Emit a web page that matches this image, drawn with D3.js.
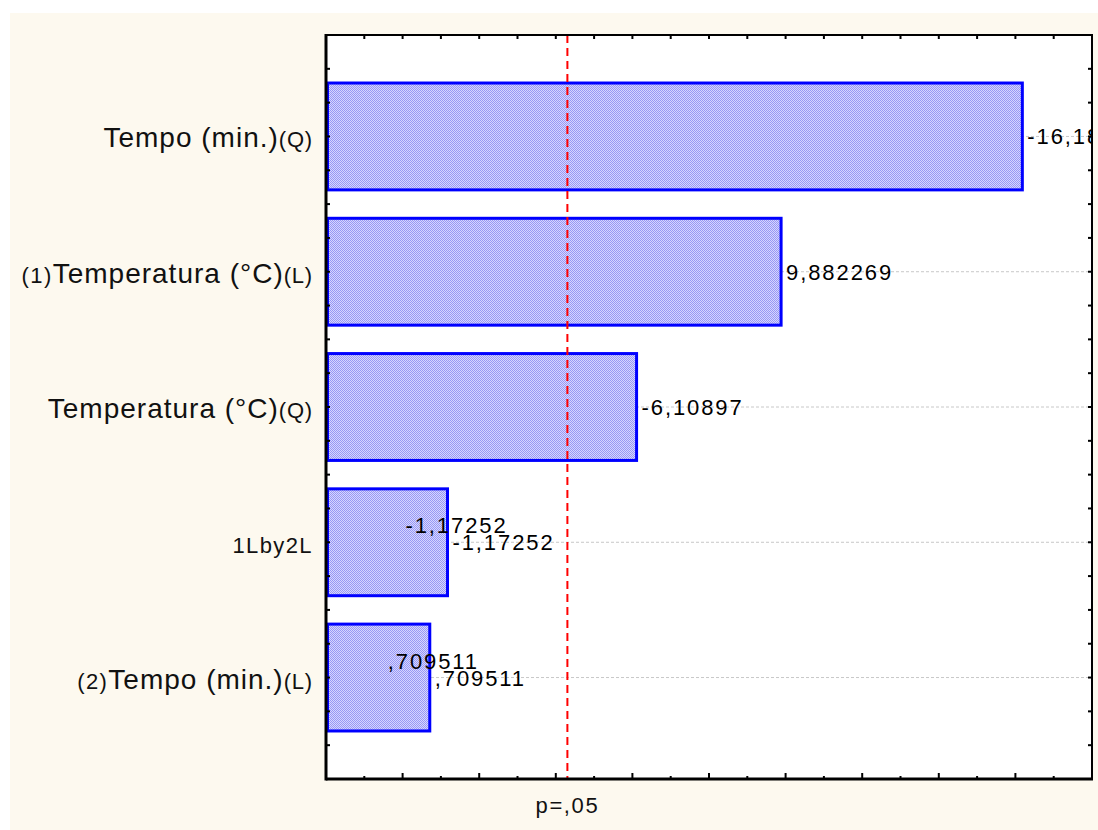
<!DOCTYPE html>
<html><head><meta charset="utf-8">
<script src="https://cdn.jsdelivr.net/npm/d3@7"></script>
<style>body{margin:0;background:#fff;} svg{display:block;font-family:"Liberation Sans",Arial,sans-serif;}</style>
</head><body>
<script>
// ---- data ----
const labelPrefix = ["", "(1)", "", "1Lby2L", "(2)"];
const labelMain   = ["Tempo (min.)", "Temperatura (°C)", "Temperatura (°C)", "", "Tempo (min.)"];
const labelSuffix = ["(Q)", "(L)", "(Q)", "", "(L)"];
const effects     = [-16.1812, 9.882269, -6.10897, -1.17252, 0.709511];
const valueLabels = ["-16,1812", "9,882269", "-6,10897", "-1,17252", ",709511"];
const pCrit = 4.302653;
const pLabel = "p=,05";
const xTicks = d3.range(-2, 19, 1);

const W = 1098, H = 830;
const svg = d3.select("body").append("svg").attr("width", W).attr("height", H);

svg.append("rect").attr("x",10).attr("y",13).attr("width",W-10).attr("height",H-13).attr("fill","#FDF9EF");

const L = 326, R = 1092, T = 35, B = 779;
const x = d3.scaleLinear().domain([-2, 18]).range([L, R]);
const y = d3.scaleLinear().domain([0.25, 5.75]).range([T, B]);
const step = y(2) - y(1);
const bh = step * 0.79;

svg.append("rect").attr("x",L).attr("y",T).attr("width",R-L).attr("height",B-T).attr("fill","#fff");

const defs = svg.append("defs");
const pat = defs.append("pattern").attr("id","dots").attr("width",2).attr("height",2).attr("patternUnits","userSpaceOnUse");
pat.append("rect").attr("width",2).attr("height",2).attr("fill","#d6d6ff");
pat.append("rect").attr("x",0).attr("y",0).attr("width",1).attr("height",1).attr("fill","#9898f4");
pat.append("rect").attr("x",1).attr("y",1).attr("width",1).attr("height",1).attr("fill","#9898f4");
defs.append("clipPath").attr("id","plotclip").append("rect").attr("x",L).attr("y",T).attr("width",R-L-1).attr("height",B-T);

const idx = d3.range(effects.length);

// grid lines
svg.append("g").selectAll("line").data(idx).join("line")
  .attr("x1",L).attr("x2",R).attr("y1",i=>y(i+1)).attr("y2",i=>y(i+1))
  .attr("stroke","#c8c8c8").attr("stroke-width",1).attr("stroke-dasharray","3,2");

// bars
svg.append("g").selectAll("rect").data(idx).join("rect")
  .attr("x",x(-2)+1.5).attr("y",i=>y(i+1)-bh/2)
  .attr("width",i=>x(Math.abs(effects[i]))-x(-2)-1.5).attr("height",bh)
  .attr("fill","url(#dots)").attr("stroke","#0000ff").attr("stroke-width",3);

// p line
svg.append("line").attr("x1",x(pCrit)).attr("x2",x(pCrit)).attr("y1",T).attr("y2",B)
  .attr("stroke","#ff0000").attr("stroke-width",2).attr("stroke-dasharray","8,5");

// value labels
const vg = svg.append("g").attr("clip-path","url(#plotclip)")
  .attr("font-size",22).attr("letter-spacing",1.9).attr("fill","#000");
vg.selectAll("text.v").data(idx).join("text").attr("class","v")
  .attr("x",i=>x(Math.abs(effects[i]))+5).attr("y",i=>y(i+1)+8).text(i=>valueLabels[i]);
vg.selectAll("text.d").data(idx.filter(i=>Math.abs(effects[i])<pCrit)).join("text").attr("class","d")
  .attr("x",i=>x(Math.abs(effects[i]))-42).attr("y",i=>y(i+1)-9).text(i=>valueLabels[i]);

// category labels
const cg = svg.append("g").attr("fill","#111");
idx.forEach(i=>{
  const t = cg.append("text").attr("x",313).attr("y",y(i+1)+11).attr("text-anchor","end");
  if (labelPrefix[i]) t.append("tspan").attr("font-size",22).attr("letter-spacing",1.4).text(labelPrefix[i]);
  if (labelMain[i]) t.append("tspan").attr("font-size",28).attr("letter-spacing",1).text(labelMain[i]);
  if (labelSuffix[i]) t.append("tspan").attr("font-size",22).attr("letter-spacing",0.8).text(labelSuffix[i]);
});

// ticks
const tk = svg.append("g").attr("stroke","#000").attr("stroke-width",2);
xTicks.slice(1,-1).forEach(v=>{
  const len = (v % 2 === 0) ? 6 : 3;
  tk.append("line").attr("x1",x(v)).attr("x2",x(v)).attr("y1",B).attr("y2",B-len);
  tk.append("line").attr("x1",x(v)).attr("x2",x(v)).attr("y1",T).attr("y2",T+4);
});
const yTicks = d3.range(0.5, 5.75, 0.25);
yTicks.forEach(v=>{
  tk.append("line").attr("x1",L).attr("x2",L+4).attr("y1",y(v)).attr("y2",y(v));
  tk.append("line").attr("x1",R).attr("x2",R-4).attr("y1",y(v)).attr("y2",y(v));
});

// frame
svg.append("line").attr("x1",L).attr("x2",R).attr("y1",T).attr("y2",T).attr("stroke","#000").attr("stroke-width",2);
svg.append("line").attr("x1",R).attr("x2",R).attr("y1",T-1).attr("y2",B).attr("stroke","#000").attr("stroke-width",2);
svg.append("line").attr("x1",L).attr("x2",L).attr("y1",T-1).attr("y2",B+1.5).attr("stroke","#000").attr("stroke-width",3);
svg.append("line").attr("x1",L).attr("x2",R+1).attr("y1",B).attr("y2",B).attr("stroke","#000").attr("stroke-width",3);

// p label
svg.append("text").attr("x",x(pCrit)).attr("y",813).attr("text-anchor","middle")
  .attr("font-size",22).attr("letter-spacing",1.6).attr("fill","#111").text(pLabel);
</script>
</body></html>
